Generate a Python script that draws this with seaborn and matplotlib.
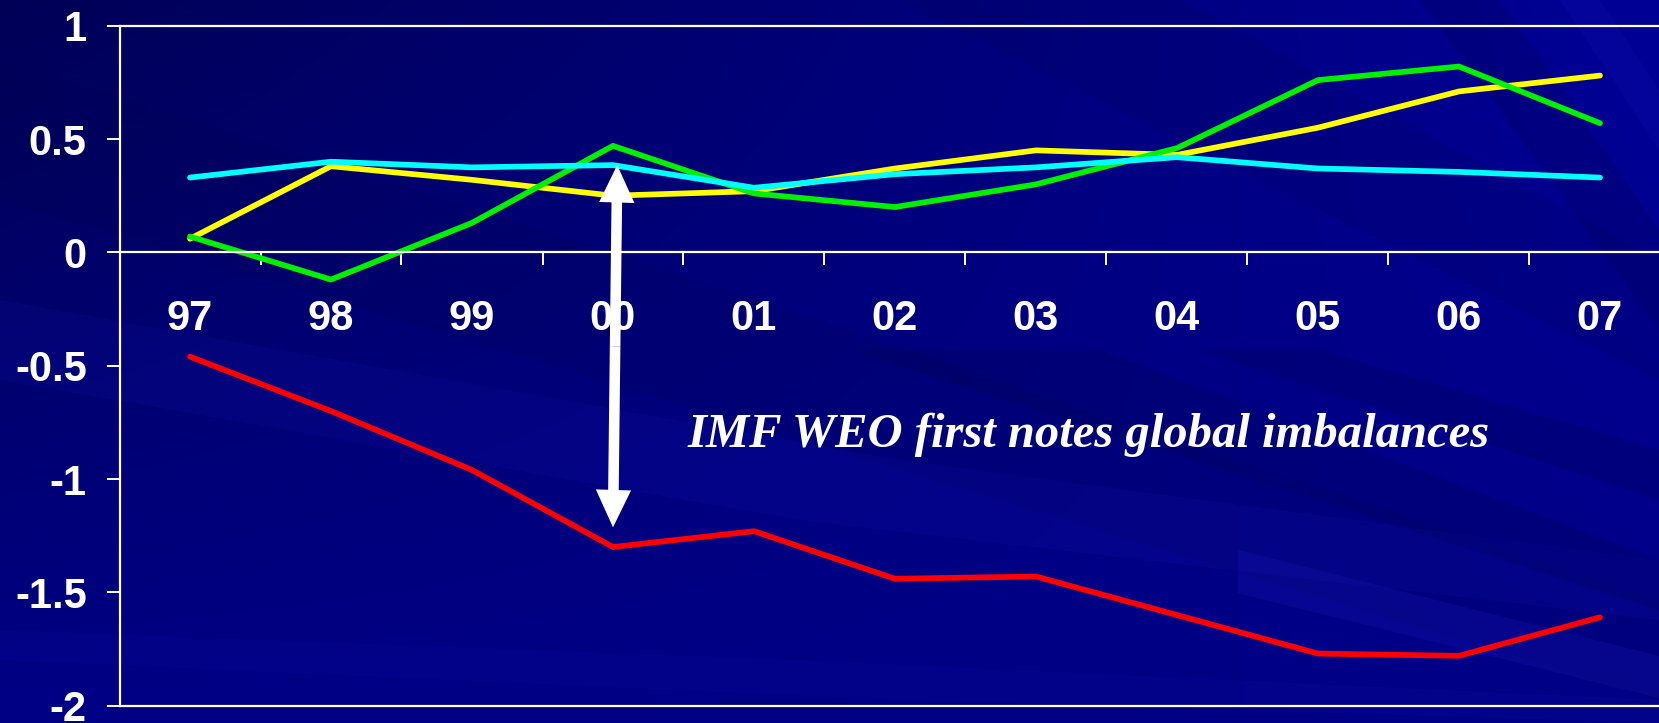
import numpy as np
import pandas as pd
import matplotlib
matplotlib.use("Agg")
import matplotlib.pyplot as plt
from matplotlib.patches import Polygon
import seaborn as sns

# ---- data -------------------------------------------------------------
years = ["97", "98", "99", "00", "01", "02", "03", "04", "05", "06", "07"]
deficit = [-0.46, -0.70, -0.96, -1.30, -1.23, -1.44, -1.43, -1.60, -1.77, -1.78, -1.61]
surplus_yellow = [0.06, 0.38, 0.32, 0.25, 0.27, 0.37, 0.45, 0.43, 0.55, 0.71, 0.78]
surplus_green = [0.07, -0.12, 0.13, 0.47, 0.26, 0.20, 0.30, 0.46, 0.76, 0.82, 0.57]
surplus_cyan = [0.33, 0.40, 0.375, 0.385, 0.285, 0.345, 0.375, 0.42, 0.37, 0.355, 0.33]

y_ticks = [-2, -1.5, -1, -0.5, 0, 0.5, 1]
y_tick_labels = ["-2", "-1.5", "-1", "-0.5", "0", "0.5", "1"]

note_text = "IMF WEO first notes global imbalances"
arrow_year = "00"
arrow_top, arrow_bottom = 0.385, -1.213

series = {
    "surplus_yellow": surplus_yellow,
    "surplus_green": surplus_green,
    "surplus_cyan": surplus_cyan,
    "deficit": deficit,
}
palette = {
    "surplus_yellow": "#FFFF00",
    "surplus_green": "#00F000",
    "surplus_cyan": "#00FFFF",
    "deficit": "#FF0000",
}
df = pd.concat(
    [pd.DataFrame({"year": years, "value": v, "series": k}) for k, v in series.items()],
    ignore_index=True,
)

plt.rcParams["font.family"] = ["Liberation Sans", "DejaVu Sans"]
plt.rcParams["font.weight"] = "bold"

# ---- figure -----------------------------------------------------------
W, H = 1659, 723
fig = plt.figure(figsize=(W / 100, H / 100), dpi=100)

# slide-style background: dark navy gradient with soft diagonal sweeps
bg = fig.add_axes([0, 0, 1, 1], zorder=-5)
bg.set_xlim(0, W)
bg.set_ylim(H, 0)
bg.axis("off")
u = np.linspace(0, 1, 400)[None, :]
v = np.linspace(0, 1, 200)[:, None]
blue = (0x56 + 0x30 * v + 0x40 * u * (1 - v)) / 255.0
img = np.dstack([np.zeros_like(blue), np.zeros_like(blue), blue])
bg.imshow(img, extent=(0, W, H, 0), aspect="auto", interpolation="bicubic")

dark = (0, 0, 0.25)
light = (0.15, 0.15, 0.85)
bands = [
    ([(0, 60), (0, 200), (900, 470), (1659, 700), (1659, 600), (700, 280)], dark, 0.12),
    ([(0, 300), (0, 380), (800, 520), (1659, 620), (1659, 560), (900, 460)], light, 0.09),
    ([(0, 630), (0, 660), (900, 700), (1659, 723), (1659, 700), (800, 660)], light, 0.06),
    ([(850, 350), (1100, 350), (1659, 560), (1659, 610)], dark, 0.18),
    ([(1200, 350), (1320, 350), (1659, 450), (1659, 500)], dark, 0.18),
    ([(1420, 0), (1500, 0), (1659, 230), (1659, 330)], dark, 0.18),
    ([(1560, 0), (1600, 0), (1659, 90), (1659, 150)], light, 0.12),
    ([(900, 0), (1180, 0), (1659, 260), (1659, 380)], dark, 0.12),
    ([(1238, 550), (1659, 656), (1659, 698), (1238, 593)], light, 0.16),
]
for pts, col, a in bands:
    bg.add_patch(Polygon(pts, closed=True, facecolor=col, edgecolor="none", alpha=a))

# ---- chart ------------------------------------------------------------
ax_left = 119.5 / W
ax_right = 1670.5 / W
ax_bottom = (H - 705.7) / H
ax_top = (H - 25.7) / H
ax = fig.add_axes([ax_left, ax_bottom, ax_right - ax_left, ax_top - ax_bottom], zorder=1)
ax.patch.set_visible(False)

sns.lineplot(
    data=df, x="year", y="value", hue="series", palette=palette,
    linewidth=4.1, sort=False, legend=False, ax=ax,
    solid_capstyle="round",
)

ax.set_xlim(-0.5, len(years) - 0.5)
ax.set_ylim(-2, 1)
ax.set_xlabel("")
ax.set_ylabel("")

white = "white"
ax.set_xticks(range(len(years)), labels=years)
ax.set_xticks(np.arange(0.5, len(years) - 0.5, 1.0), minor=True)
ax.set_yticks(y_ticks, labels=y_tick_labels)

ax.tick_params(axis="x", which="major", length=0, pad=33.5, labelsize=30, labelcolor=white)
ax.tick_params(axis="x", which="minor", length=9.6, width=1.4, color=white,
               direction="out", labelbottom=False)
ax.tick_params(axis="y", which="major", length=9.6, width=1.4, color=white,
               direction="out", pad=14, labelsize=30, labelcolor=white)

ax.spines["right"].set_visible(False)
ax.spines["bottom"].set_position(("data", 0))
for side in ("left", "top", "bottom"):
    ax.spines[side].set_color(white)
    ax.spines[side].set_linewidth(1.6)
ax.axhline(-2, color=white, linewidth=1.6, clip_on=False, zorder=2)
ax.grid(False)

# double-headed arrow at the 2000 gap, built from two arrows meeting mid-way
xi = years.index(arrow_year)
x_top, x_bot = xi + 0.03, xi
y_mid = (arrow_top + arrow_bottom) / 2
x_mid = (x_top + x_bot) / 2
arrow_kw = dict(width=0.075, head_width=0.25, head_length=0.165,
                length_includes_head=True, color=white, zorder=5, linewidth=0)
ax.arrow(x_mid, y_mid, x_top - x_mid, arrow_top - y_mid, **arrow_kw)
ax.arrow(x_mid, y_mid, x_bot - x_mid, arrow_bottom - y_mid, **arrow_kw)

ax.text(
    3.53, -0.86, note_text, color=white, ha="left", va="baseline",
    family="Liberation Serif", style="italic", weight="bold", size=35, zorder=5,
)

fig.savefig("out.png", dpi=100)
